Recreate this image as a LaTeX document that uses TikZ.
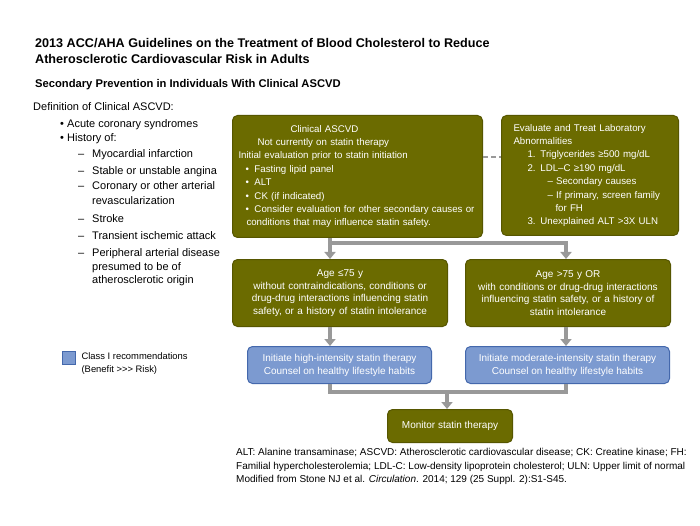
\documentclass[tikz,border=0pt]{standalone}
\usepackage{fontspec}
\setmainfont{Liberation Sans}
\usetikzlibrary{positioning, calc, arrows.meta}
\definecolor{myolive}{RGB}{107,107,0}
\definecolor{oliveline}{RGB}{86,86,0}
\definecolor{myblue}{RGB}{124,154,208}
\definecolor{blueline}{RGB}{68,104,172}
\definecolor{mygray}{RGB}{153,153,153}
\newcommand\rc{5pt}
\newcommand\bfs{\fontsize{9.7}{13.4}\selectfont}
\newcommand\bli{\makebox[7pt][l]{•}}
\newcommand\bbli{\makebox[9pt][l]{•}}
\newcommand\dli{\makebox[14pt][l]{–}}

\begin{document}
\begin{tikzpicture}[x=1pt, y=-1pt, every node/.style={inner sep=0pt},
    obox/.style={draw=oliveline, fill=myolive, text=white, rounded corners=\rc, line width=1pt, anchor=north west},
    bbox/.style={draw=blueline, fill=myblue, text=white, rounded corners=\rc, line width=1pt, anchor=north west, align=center, font=\fontsize{10}{13}\selectfont},
    gline/.style={draw=mygray, line width=4pt},
    garrow/.style={draw=mygray, line width=4pt, -{Triangle[width=11pt,length=7pt]}}]
    \useasboundingbox[fill=white] (0,0) rectangle (700,526);

    % headings
    \node (title) [anchor=north west, align=left, font=\fontsize{12.6}{16}\selectfont\bfseries] at (35,38) {2013 ACC/AHA Guidelines on the Treatment of Blood Cholesterol to Reduce\\Atherosclerotic Cardiovascular Risk in Adults};
    \node (sub) [anchor=north west, font=\fontsize{11.2}{13}\selectfont\bfseries] at (35,79) {Secondary Prevention in Individuals With Clinical ASCVD};

    % definition list
    \node (defs) [anchor=north west, align=left, font=\fontsize{11}{14.5}\selectfont] at (33,102) {Definition of Clinical ASCVD:\\[2.5pt]
        \hspace*{27pt}\bli Acute coronary syndromes\\
        \hspace*{27pt}\bli History of:\\[1.5pt]
        \hspace*{45pt}\dli Myocardial infarction\\[2.5pt]
        \hspace*{45pt}\dli Stable or unstable angina\\[0.5pt]
        \hspace*{45pt}\dli Coronary or other arterial\\[0.5pt]
        \hspace*{59pt}revascularization\\[3.5pt]
        \hspace*{45pt}\dli Stroke\\[2.5pt]
        \hspace*{45pt}\dli Transient ischemic attack\\[2.5pt]
        \hspace*{45pt}\dli Peripheral arterial disease\\[-0.5pt]
        \hspace*{59pt}presumed to be of\\[-1.5pt]
        \hspace*{59pt}atherosclerotic origin};

    % flow boxes
    \node (ascvd) [obox, minimum width=250, minimum height=122, text width=244, inner xsep=3pt, align=left, font=\bfs] at (232,115) {%
        \hspace*{55pt}Clinical ASCVD\\
        \hspace*{22pt}Not currently on statin therapy\\
        \hspace*{3pt}Initial evaluation prior to statin initiation\\
        \hspace*{10pt}\bbli Fasting lipid panel\\
        \hspace*{10pt}\bbli ALT\\
        \hspace*{10pt}\bbli CK (if indicated)\\
        \hspace*{10pt}\bbli Consider evaluation for other secondary causes or\\
        \hspace*{11pt}conditions that may influence statin safety.};
    \node (labs) [obox, minimum width=177, minimum height=120, text width=169, inner xsep=4pt, align=left, font=\bfs] at (501,115) {%
        \hspace*{8pt}Evaluate and Treat Laboratory\\
        \hspace*{8pt}Abnormalities\\
        \hspace*{22pt}1. Triglycerides ≥500 mg/dL\\
        \hspace*{22pt}2. LDL–C ≥190 mg/dL\\
        \hspace*{42pt}– Secondary causes\\
        \hspace*{42pt}– If primary, screen family\\
        \hspace*{50pt}for FH\\
        \hspace*{22pt}3. Unexplained ALT >3X ULN};

    \node (young) [obox, minimum width=215, minimum height=67, text width=209, align=center, font=\fontsize{10}{12.7}\selectfont] at (232,259) {Age ≤75 y\\without contraindications, conditions or\\drug-drug interactions influencing statin\\safety, or a history of statin intolerance};
    \node (old) [obox, minimum width=205, minimum height=67, text width=199, align=center, font=\fontsize{10}{12.7}\selectfont] at (465,259) {Age >75 y OR\\with conditions or drug-drug interactions\\influencing statin safety, or a history of\\statin intolerance};

    \node (high) [bbox, minimum width=184, minimum height=37] at (247,346) {Initiate high-intensity statin therapy\\Counsel on healthy lifestyle habits};
    \node (moderate) [bbox, minimum width=204, minimum height=37] at (465,346) {Initiate moderate-intensity statin therapy\\Counsel on healthy lifestyle habits};

    \node (monitor) [obox, minimum width=125, minimum height=33, font=\fontsize{10}{12}\selectfont] at (387,409) {Monitor statin therapy};

    % connectors
    \draw[draw=mygray, line width=2pt, dash pattern=on 5pt off 3pt] ($(ascvd.north east)+(0,42)$) -- ($(labs.north west)+(0,42)$);

    \coordinate (j1) at (330,243);
    \coordinate (j2) at (566,243);
    \draw[gline] (j1 |- ascvd.south) -- (j1);
    \draw[garrow] (j1) -- (j1 |- young.north);
    \draw[garrow] (j1) -- (j2) -- (j2 |- old.north);

    \draw[garrow] (j1 |- young.south) -- (j1 |- high.north);
    \draw[garrow] (j2 |- old.south) -- (j2 |- moderate.north);

    \coordinate (k1) at (330,392);
    \coordinate (k2) at (566,392);
    \coordinate (k0) at (447,392);
    \draw[gline] (k1 |- high.south) -- (k1) -- (k2) -- (k2 |- moderate.south);
    \draw[garrow] (k0) -- (k0 |- monitor.north);

    % legend
    \node (key) [draw=blueline, fill=myblue, minimum size=13, anchor=north west] at (62,351) {};
    \node (keytext) [right=6pt of key.north east, anchor=north west, yshift=-1.5pt, align=left, font=\fontsize{9.4}{13}\selectfont] {Class I recommendations\\(Benefit >{}>{}> Risk)};

    % footnote
    \node (notes) [anchor=north west, align=left, font=\fontsize{10}{13.7}\selectfont] at (236,448) {ALT: Alanine transaminase; ASCVD: Atherosclerotic cardiovascular disease; CK: Creatine kinase; FH:\\Familial hypercholesterolemia; LDL-C: Low-density lipoprotein cholesterol; ULN: Upper limit of normal\\Modified from Stone NJ et al. \textit{Circulation}. 2014; 129 (25 Suppl. 2):S1-S45.};

\end{tikzpicture}
\end{document}
